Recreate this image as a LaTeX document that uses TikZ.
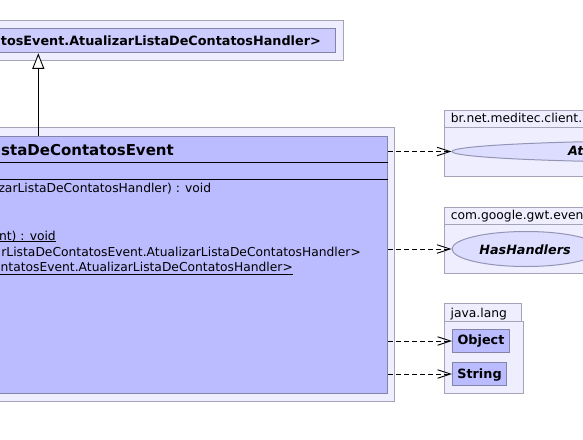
\documentclass[tikz,border=0pt]{standalone}
\usepackage{fontspec}
\setmainfont{DejaVu Sans}
\usetikzlibrary{arrows.meta,shapes.geometric}
\definecolor{pkgfill}{HTML}{EEEEFF}
\definecolor{pkgborder}{HTML}{A4A4B8}
\definecolor{clsfill}{HTML}{BBBBFF}
\definecolor{supfill}{HTML}{CCCCFF}
\definecolor{clsborder}{HTML}{8484A8}
\definecolor{ellfill}{HTML}{DDDDFF}
\definecolor{ellborder}{HTML}{9494B4}
\newcommand\umlnorm{\fontsize{12.3}{14}\selectfont}
\newcommand\umlbold{\fontsize{12.8}{15}\selectfont\bfseries}
\newcommand\umltitle{\fontsize{15}{18}\selectfont\bfseries}
\newcommand\umlbi{\fontsize{12.75}{15}\selectfont\bfseries\itshape}
\begin{document}
\begin{tikzpicture}[x=1pt,y=-1pt,
  pkg/.style={draw=pkgborder, fill=pkgfill, line width=1pt, inner sep=0pt, anchor=north west},
  cls/.style={draw=clsborder, fill=clsfill, line width=1pt, inner sep=0pt, anchor=north west},
  ell/.style={ellipse, draw=ellborder, fill=ellfill, line width=1pt, inner sep=0pt},
  txt/.style={inner sep=0pt, text=black},
  sep/.style={draw=black, line width=1pt},
  dep/.style={draw=black, line width=0.9pt, dash pattern=on 5pt off 3pt, -{Straight Barb[length=13pt,width=8.5pt,line width=0.9pt]}},
  inh/.style={draw=black, line width=0.9pt, -{Triangle[open,length=15.5pt,width=12pt,line width=0.9pt,fill=white]}}]
\path[use as bounding box, fill=white] (0,0) rectangle (583,439);
\clip (0,0) rectangle (583,439);

% superclass box
\node[pkg, minimum width=353, minimum height=40] (supOuter) at (-10,20) {};
\node[cls, fill=supfill, minimum width=345, minimum height=24] (sup) at (-10,28.3) {};
\node[txt, anchor=base east] (supText) at (321,45) {\umlbold tosEvent.AtualizarListaDeContatosHandler>};

% main class
\node[pkg, minimum width=404, minimum height=274] (mainOuter) at (-10,127) {};
\node[cls, minimum width=397, minimum height=257.5] (main) at (-10,135.5) {};
\node[txt, anchor=base east] (title) at (174,155) {\umltitle staDeContatosEvent};
\draw[sep] (main.north west |- 0,162) -- (main.north east |- 0,162);
\draw[sep] (main.north west |- 0,179) -- (main.north east |- 0,179);
\node[txt, anchor=base east] (m1) at (211.4,192.5) {\umlnorm zarListaDeContatosHandler) : void};
\node[txt, anchor=base east] (m2) at (56,240) {\umlnorm nt) : void};
\node[txt, anchor=base east] (m3) at (361,256) {\umlnorm rListaDeContatosEvent.AtualizarListaDeContatosHandler>};
\node[txt, anchor=base east] (m4) at (293,271.8) {\umlnorm ntatosEvent.AtualizarListaDeContatosHandler>};
\draw[line width=0.8pt] (m2.base west |- 0,241.8) -- (m2.base east |- 0,241.8);
\draw[line width=0.8pt] (m4.base west |- 0,274.3) -- (m4.base east |- 0,274.3);

% package br.net.meditec.client.
\node[pkg, minimum width=160, minimum height=17] (p1tab) at (444,110) {};
\node[pkg, minimum width=160, minimum height=49] (p1) at (444,127) {};
\node[txt, anchor=base west] (p1name) at (450.7,122.7) {\umlnorm br.net.meditec.client.};
\node[ell, minimum width=488, minimum height=22] (ell1) at (696,151.5) {};
\node[txt, anchor=base west] (ell1text) at (568,155.5) {\umlbi At};

% package com.google.gwt.even
\node[pkg, minimum width=160, minimum height=17] (p2tab) at (444,207) {};
\node[pkg, minimum width=160, minimum height=49] (p2) at (444,224) {};
\node[txt, anchor=base west] (p2name) at (450.7,219.3) {\umlnorm com.google.gwt.even};
\node[ell, minimum width=148, minimum height=35] (ell2) at (526,249) {};
\node[txt, anchor=base] (ell2text) at (525,254.3) {\umlbi HasHandlers};

% package java.lang
\node[pkg, minimum width=77, minimum height=18] (p3tab) at (444,303) {};
\node[pkg, minimum width=79, minimum height=72] (p3) at (444,321) {};
\node[txt, anchor=base west] (p3name) at (450.5,317.3) {\umlnorm java.lang};
\node[cls, minimum width=57, minimum height=23, text height=9.5pt, text depth=2.5pt] (obj) at (452,329) {\umlbold Object};
\node[cls, minimum width=54, minimum height=23, text height=10pt, text depth=0.6pt] (str) at (452,362) {\umlbold String};

% connectors
\coordinate (inhStart) at (38.3,135.5);
\draw[inh] (inhStart) -- (inhStart |- sup.south);
\draw[dep] (main.east |- ell1.west) -- (ell1.west);
\draw[dep] (main.east |- ell2.west) -- (ell2.west);
\draw[dep] (main.east |- obj.west) -- (obj.west);
\draw[dep] (main.east |- str.west) -- (str.west);
\end{tikzpicture}
\end{document}
